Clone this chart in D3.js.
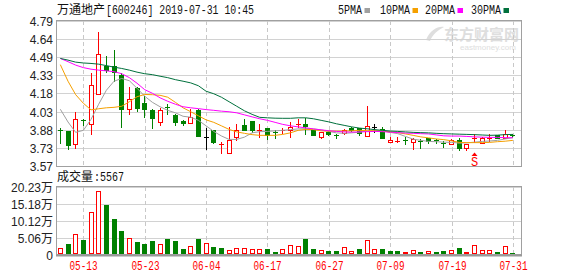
<!DOCTYPE html>
<html><head><meta charset="utf-8">
<script src="https://cdn.jsdelivr.net/npm/d3@7"></script>
<style>body{margin:0;background:#fff}svg{display:block}</style>
</head><body><svg id="c" width="578" height="276"></svg>
<script>
// ---------- data ----------
const dates=["05-08","05-09","05-10","05-13","05-14","05-15","05-16","05-17","05-20","05-21","05-22","05-23","05-24","05-27","05-28","05-29","05-30","05-31","06-03","06-04","06-05","06-06","06-10","06-11","06-12","06-13","06-14","06-17","06-18","06-19","06-20","06-21","06-24","06-25","06-26","06-27","06-28","07-01","07-02","07-03","07-04","07-05","07-08","07-09","07-10","07-11","07-12","07-15","07-16","07-17","07-18","07-19","07-22","07-23","07-24","07-25","07-26","07-29","07-30","07-31"];
const open =[3.88,3.87,3.76,3.96,3.93,4.18,4.41,4.41,4.335,4.05,4.23,4.10,4.04,3.94,4.065,4.00,3.955,3.935,4.045,3.816,3.88,3.755,3.68,3.82,3.915,3.95,3.87,3.89,3.86,3.87,3.875,3.925,3.93,3.875,3.815,3.855,3.835,3.85,3.895,3.89,3.825,3.905,3.885,3.775,3.775,3.795,3.775,3.785,3.81,3.795,3.765,3.76,3.795,3.725,3.80,3.77,3.805,3.83,3.81,3.835];
const high =[3.895,3.87,4.03,3.97,4.35,4.695,4.50,4.545,4.355,4.235,4.235,4.16,4.05,4.06,4.09,4.01,3.96,4.055,4.055,3.89,3.88,3.775,3.90,3.93,3.97,3.955,3.925,3.895,3.875,3.89,3.945,3.97,3.98,3.875,3.86,3.87,3.845,3.885,3.90,3.895,4.075,3.93,3.905,3.82,3.82,3.82,3.81,3.80,3.81,3.80,3.78,3.80,3.81,3.76,3.845,3.815,3.84,3.835,3.875,3.845];
const low  =[3.77,3.72,3.725,3.915,3.845,4.175,4.36,4.285,3.90,4.01,4.035,3.985,3.89,3.92,4.01,3.92,3.92,3.935,3.825,3.72,3.765,3.685,3.68,3.79,3.875,3.86,3.82,3.80,3.81,3.85,3.82,3.90,3.845,3.83,3.81,3.83,3.81,3.845,3.87,3.83,3.825,3.86,3.805,3.775,3.775,3.76,3.72,3.725,3.77,3.77,3.735,3.755,3.705,3.705,3.775,3.765,3.785,3.805,3.805,3.815];
const close=[3.875,3.75,3.97,3.955,4.25,4.51,4.38,4.36,4.055,4.14,4.06,4.05,3.975,4.045,4.06,3.945,3.935,3.985,3.825,3.816,3.775,3.76,3.795,3.88,3.88,3.88,3.875,3.83,3.855,3.88,3.905,3.93,3.91,3.835,3.855,3.84,3.83,3.88,3.88,3.85,3.91,3.905,3.81,3.795,3.78,3.79,3.80,3.78,3.78,3.78,3.76,3.795,3.725,3.755,3.81,3.81,3.81,3.81,3.84,3.83];
// volume in lots (手)
const volume=[18000,31000,60000,43000,126000,190000,148000,106000,70000,48000,37000,31000,39000,32000,45000,40000,16000,24000,47000,33000,21000,18000,12000,20000,20000,15000,15000,15000,7000,15000,27000,25000,45000,15000,12000,10000,10000,23000,9000,15000,43000,17000,15000,10000,10000,6000,12000,6000,9000,6000,9000,12000,18000,6000,27000,12000,12000,6000,24000,5567];
// volume bar colour: 1 = red (up), 0 = green (down)
const volUp=[1,0,1,0,1,1,0,0,0,1,0,0,0,1,0,0,0,1,0,1,0,0,1,1,1,1,1,0,0,1,1,1,0,0,1,0,0,1,1,0,1,1,0,0,0,1,1,0,1,0,0,1,0,1,1,1,1,0,1,0];
const ma5 =[4.050,3.943,3.856,3.873,3.965,4.092,4.209,4.285,4.308,4.289,4.226,4.159,4.108,4.071,4.041,4.020,3.991,3.983,3.957,3.911,3.864,3.826,3.797,3.797,3.816,3.852,3.862,3.864,3.869,3.873,3.879,3.885,3.887,3.885,3.877,3.864,3.852,3.848,3.852,3.858,3.867,3.873,3.869,3.856,3.845,3.822,3.799,3.789,3.780,3.778,3.774,3.772,3.766,3.768,3.774,3.780,3.784,3.789,3.801,3.811];
const ma10=[4.424,4.285,4.172,4.100,4.045,4.054,4.062,4.066,4.075,4.113,4.155,4.174,4.172,4.167,4.151,4.108,4.062,4.029,3.995,3.961,3.940,3.911,3.881,3.860,3.848,3.837,3.831,3.831,3.831,3.839,3.852,3.873,3.881,3.879,3.869,3.866,3.867,3.867,3.869,3.873,3.870,3.869,3.867,3.860,3.854,3.843,3.831,3.818,3.810,3.801,3.795,3.785,3.772,3.770,3.770,3.770,3.772,3.778,3.782,3.789];
const ma20=[4.476,4.449,4.420,4.399,4.386,4.378,4.372,4.365,4.348,4.315,4.268,4.214,4.184,4.146,4.117,4.092,4.071,4.062,4.055,4.047,4.041,4.034,4.029,4.020,4.003,3.986,3.970,3.957,3.940,3.923,3.911,3.902,3.894,3.885,3.877,3.870,3.864,3.860,3.858,3.860,3.862,3.864,3.862,3.858,3.854,3.850,3.848,3.845,3.843,3.835,3.827,3.825,3.825,3.822,3.818,3.816,3.814,3.814,3.812,3.811];
const ma30=[4.476,4.462,4.445,4.438,4.434,4.428,4.416,4.403,4.392,4.378,4.361,4.348,4.340,4.327,4.315,4.298,4.285,4.271,4.247,4.201,4.180,4.151,4.113,4.075,4.037,4.007,3.982,3.978,3.975,3.974,3.974,3.978,3.978,3.970,3.957,3.944,3.928,3.915,3.902,3.892,3.886,3.879,3.873,3.867,3.864,3.860,3.856,3.854,3.852,3.848,3.845,3.843,3.841,3.839,3.837,3.834,3.831,3.833,3.837,3.839];
const priceTickLabels=["4.79","4.64","4.49","4.33","4.18","4.03","3.88","3.73","3.57"];
const priceDomain=[3.574,4.79];
const volTickLabels=["0","5.06万","10.12万","15.18万","20.23万"];
const volMax=202300;
const xTickLabels=["05-13","05-23","06-04","06-17","06-27","07-09","07-19","07-31"];
const maNames=["5PMA","10PMA","20PMA","30PMA"];
const signals=[{date:"07-24",label:"S"}];
const stockName="万通地产", stockInfo="[600246] 2019-07-31 10:45";
const volTitle="成交量", volLast=":5567";

// ---------- drawing ----------
const svg=d3.select("#c");
const L=56.5,R=521.5,T=21,B=166,VT=187,VB=254.5;
const x=d3.scaleBand().domain(dates).range([56.5,516.7]);
const cx=d=>x(d)+x.bandwidth()/2;
const y=d3.scaleLinear().domain(priceDomain).range([B,T]);
const yv=d3.scaleLinear().domain([0,volMax]).range([VB,VT]);
const crisp=v=>Math.round(v)+0.5;
const RED="#ff0000",GRN="#008000",BLK="#000";
const maCols=["#a0a0a0","#f5a000","#ff00ff","#00703c"];
const FONT="'Liberation Sans',Arial,sans-serif";
const MONO="'Liberation Mono','DejaVu Sans Mono',monospace";
const CJK="'Noto Sans CJK SC',sans-serif";

// watermark
const wm=svg.append("g").attr("fill","#dedede");
wm.append("path").attr("d","M426,40 C430,30 438,26 444,27 C438,30 433,34 430,41 Z");
wm.append("text").attr("x",444).attr("y",40).attr("font-family",CJK).attr("font-weight","bold").attr("font-size",15).text("东方财富网");
wm.append("text").attr("x",460).attr("y",50).attr("font-family",FONT).attr("font-size",8).text("eastmoney.com");

// grids
const pStep=(priceDomain[1]-priceDomain[0])/(priceTickLabels.length-1);
const gg=svg.append("g");
priceTickLabels.forEach((lab,k)=>{
  const yy=crisp(y(priceDomain[1]-k*pStep));
  gg.append("line").attr("x1",L).attr("x2",R).attr("y1",yy).attr("y2",yy).attr("stroke","#d2d2d2");
  svg.append("text").attr("x",53).attr("y",yy).attr("dy","0.35em").attr("text-anchor","end")
    .attr("font-family",FONT).attr("font-size",12).attr("fill","#222").text(lab);
});
volTickLabels.forEach((lab,k)=>{
  const yy=crisp(yv(k*volMax/(volTickLabels.length-1)));
  gg.append("line").attr("x1",L).attr("x2",R).attr("y1",yy).attr("y2",yy).attr("stroke","#d2d2d2");
  svg.append("text").attr("x",53).attr("y",yy).attr("dy","0.35em").attr("text-anchor","end")
    .attr("font-family",FONT+","+CJK).attr("font-size",12).attr("fill","#222").text(lab);
});
xTickLabels.forEach(lab=>{
  const xx=crisp(cx(lab));
  [[T,B],[VT,VB]].forEach(([a,b])=>gg.append("line").attr("x1",xx).attr("x2",xx).attr("y1",a).attr("y2",b)
    .attr("stroke","#c8c8c8").attr("stroke-dasharray","4,3"));
  svg.append("text").attr("x",xx).attr("y",270).attr("text-anchor","middle").attr("font-family",MONO)
    .attr("font-size",12).attr("fill",RED).attr("textLength",28).attr("lengthAdjust","spacingAndGlyphs").text(lab);
});

// frames
svg.append("rect").attr("x",L).attr("y",T-0.5).attr("width",R-L).attr("height",B-T+1).attr("fill","none").attr("stroke","#a0a0a0");
svg.append("rect").attr("x",L).attr("y",VT-0.5).attr("width",R-L).attr("height",VB-VT+0.5).attr("fill","none").attr("stroke","#a0a0a0");
svg.append("line").attr("x1",L-0.5).attr("x2",R+0.5).attr("y1",255.5).attr("y2",255.5).attr("stroke","#999").attr("stroke-width",2);

// candles
const cg=svg.append("g");
dates.forEach((d,i)=>{
  const o=open[i],c=close[i],h=high[i],l=low[i];
  const col=c>o?RED:(c<o?GRN:BLK);
  const px=Math.floor(cx(d));
  const wx=px+0.5;
  const yt=Math.round(y(Math.max(o,c))), yb=Math.round(y(Math.min(o,c)));
  const yh=Math.round(y(h)), yl=Math.round(y(l));
  if(yb-yt<2){
    cg.append("line").attr("x1",wx).attr("x2",wx).attr("y1",yh).attr("y2",yl+1).attr("stroke",col);
    cg.append("rect").attr("x",px-2).attr("y",yt).attr("width",5).attr("height",Math.max(1,yb-yt)).attr("fill",col);
  } else if(c>o){
    if(yh<yt) cg.append("line").attr("x1",wx).attr("x2",wx).attr("y1",yh).attr("y2",yt).attr("stroke",col);
    if(yl>yb) cg.append("line").attr("x1",wx).attr("x2",wx).attr("y1",yb).attr("y2",yl+1).attr("stroke",col);
    cg.append("rect").attr("x",px-1.5).attr("y",yt+0.5).attr("width",4).attr("height",yb-yt).attr("fill","#fff").attr("stroke",col);
  } else {
    cg.append("line").attr("x1",wx).attr("x2",wx).attr("y1",yh).attr("y2",yl+1).attr("stroke",col);
    cg.append("rect").attr("x",px-2).attr("y",yt).attr("width",5).attr("height",yb-yt+1).attr("fill",col);
  }
});

// moving averages
[ma5,ma10,ma20,ma30].forEach((arr,k)=>{
  svg.append("path").attr("d",d3.line().x((v,i)=>cx(dates[i])).y(v=>y(v))(arr))
    .attr("fill","none").attr("stroke",maCols[k]).attr("stroke-width",1);
});

// signals
signals.forEach(s=>{
  const sx=cx(s.date);
  svg.append("path").attr("d",`M${sx-3},156 L${sx+3},156 L${sx},152.5 Z`).attr("fill",RED);
  svg.append("text").attr("x",sx).attr("y",165.5).attr("text-anchor","middle").attr("font-family",MONO)
    .attr("font-size",12).attr("fill",RED).text(s.label);
});

// volume bars
const vg=svg.append("g");
dates.forEach((d,i)=>{
  const px=Math.floor(cx(d));
  const top=Math.round(yv(volume[i])), base=254;
  if(volUp[i]){
    if(base-top<2) vg.append("rect").attr("x",px-2).attr("y",top).attr("width",5).attr("height",Math.max(1,base-top)).attr("fill",RED);
    else vg.append("rect").attr("x",px-1.5).attr("y",top+0.5).attr("width",4).attr("height",base-top-1).attr("fill","#fff").attr("stroke",RED);
  } else {
    vg.append("rect").attr("x",px-2).attr("y",top).attr("width",5).attr("height",Math.max(1,base-top)).attr("fill",GRN);
  }
});

// titles
svg.append("text").attr("x",57).attr("y",14).attr("font-family",CJK).attr("font-size",12).attr("fill","#111").text(stockName);
svg.append("text").attr("x",106).attr("y",14).attr("font-family",MONO).attr("font-size",12).attr("fill","#111")
  .attr("textLength",148).attr("lengthAdjust","spacingAndGlyphs").text(stockInfo);
svg.append("text").attr("x",57).attr("y",181).attr("font-family",CJK).attr("font-size",12).attr("fill","#111").text(volTitle);
svg.append("text").attr("x",94).attr("y",181).attr("font-family",MONO).attr("font-size",12).attr("fill","#111")
  .attr("textLength",30).attr("lengthAdjust","spacingAndGlyphs").text(volLast);

// legend
const legX=[338,380,425,471];
maNames.forEach((n,k)=>{
  const w=n.length*6;
  svg.append("text").attr("x",legX[k]).attr("y",14).attr("font-family",MONO).attr("font-size",12).attr("fill","#111")
    .attr("textLength",w).attr("lengthAdjust","spacingAndGlyphs").text(n);
  svg.append("rect").attr("x",legX[k]+w+2.5).attr("y",8).attr("width",5.5).attr("height",5).attr("fill",maCols[k]);
});
</script></body></html>
